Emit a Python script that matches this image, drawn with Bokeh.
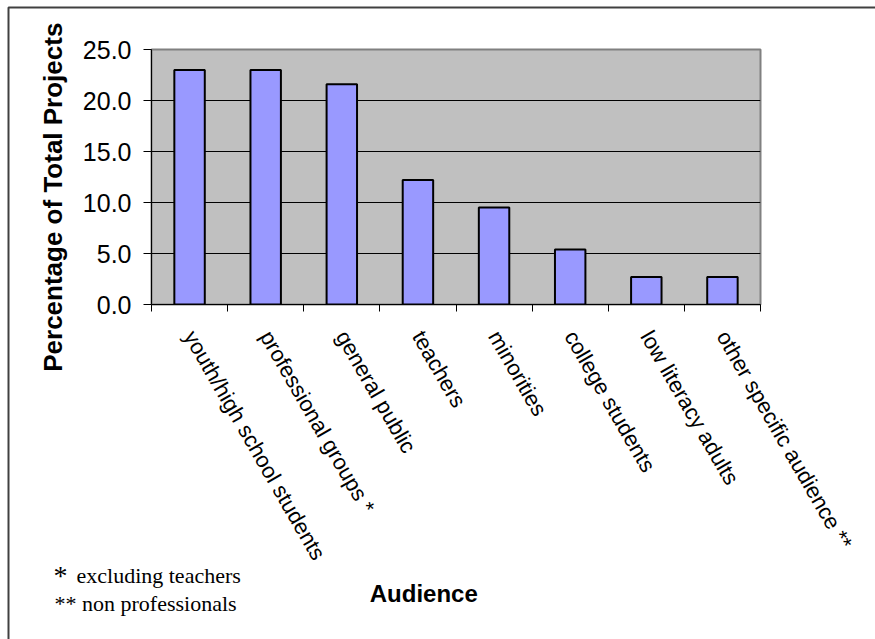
import math
from bokeh.plotting import figure
from bokeh.models import Range1d, FixedTicker
from bokeh.layouts import column
from bokeh.core.properties import value
from bokeh.embed import file_html
from bokeh.resources import INLINE

# ---- data ----
categories = ["youth/high school students", "professional groups *", "general public",
              "teachers", "minorities", "college students", "low literacy adults",
              "other specific audience **"]
values = [23.0, 23.0, 21.6, 12.2, 9.5, 5.4, 2.7, 2.7]
y_ticks = [0, 5, 10, 15, 20, 25]
y_tick_labels = ["0.0", "5.0", "10.0", "15.0", "20.0", "25.0"]
y_title = "Percentage of Total Projects"
x_title = "Audience"
note1_mark = "*"
note1_text = "excluding teachers"
note2_text = "** non professionals"

# ---- layout constants (pixels) ----
W, H = 875, 639
FL, FR, FT, FB = 151, 760, 49, 304   # plot-area edges

n = len(categories)
x_idx = list(range(n))

# ---------------- main chart ----------------
p = figure(width=W, height=H, output_backend="svg", toolbar_location=None,
           x_range=Range1d(-0.5, n - 0.5), y_range=Range1d(0, 25),
           min_border_left=FL, min_border_right=W - FR,
           min_border_top=FT, min_border_bottom=H - FB)

p.background_fill_color = "#C0C0C0"
p.border_fill_color = "white"
p.outline_line_color = "#808080"
p.outline_line_width = 2

p.vbar(x=x_idx, top=values, width=0.4, bottom=0,
       fill_color="#9999FF", line_color="black", line_width=2)

p.xgrid.visible = False
p.ygrid.grid_line_color = "black"
p.ygrid.grid_line_width = 1
p.ygrid.ticker = FixedTicker(ticks=y_ticks)

ya = p.yaxis[0]
ya.ticker = FixedTicker(ticks=y_ticks)
ya.major_label_overrides = {t: lab for t, lab in zip(y_ticks, y_tick_labels)}
ya.major_label_text_font = "Liberation Sans"
ya.major_label_text_font_size = "25px"
ya.major_label_text_color = "black"
ya.major_tick_out = 8
ya.major_tick_in = 0
ya.minor_tick_out = 0
ya.minor_tick_in = 0
ya.major_label_standoff = 12
ya.axis_line_color = "black"
ya.major_tick_line_color = "black"

xa = p.xaxis[0]
xa.ticker = FixedTicker(ticks=x_idx, minor_ticks=[i - 0.5 for i in range(n + 1)])
xa.major_label_overrides = {i: c for i, c in zip(x_idx, categories)}
xa.major_label_orientation = -math.radians(60)
xa.major_label_text_font = "Liberation Sans"
xa.major_label_text_font_size = "22px"
xa.major_label_text_color = "black"
xa.major_tick_out = 0
xa.major_tick_in = 0
xa.minor_tick_out = 7
xa.minor_tick_in = 0
xa.minor_tick_line_color = "black"
xa.major_label_standoff = 21
xa.axis_line_color = "black"

# ---------------- transparent overlay for free-standing texts ----------------
q = figure(width=W, height=H, output_backend="svg", toolbar_location=None,
           x_range=Range1d(0, W), y_range=Range1d(0, H),
           x_axis_type=None, y_axis_type=None, min_border=0,
           margin=(-H, 0, 0, 0))
q.background_fill_alpha = 0
q.border_fill_alpha = 0
q.outline_line_color = None
q.grid.visible = False

# do not align the overlay's frame with the chart's frame
p.frame_align = False
q.frame_align = False

def Y(sy):
    return H - sy

q.text(x=[52], y=[Y(196.7)], text=[y_title], angle=math.pi / 2,
       text_align="center", text_baseline="alphabetic",
       text_font=value("Liberation Sans"), text_font_style="bold",
       text_font_size="26px", text_color="black")
q.text(x=[423.3], y=[Y(592.5)], text=[x_title],
       text_align="center", text_baseline="alphabetic",
       text_font=value("Liberation Sans"), text_font_style="bold",
       text_font_size="24px", text_color="black")
q.text(x=[53], y=[Y(575)], text=[note1_mark],
       text_align="left", text_baseline="alphabetic",
       text_font=value("Liberation Serif"), text_font_size="28px", text_color="black")
q.text(x=[76], y=[Y(575)], text=[note1_text],
       text_align="left", text_baseline="alphabetic",
       text_font=value("Liberation Serif"), text_font_size="22px", text_color="black")
q.text(x=[54], y=[Y(603)], text=[note2_text],
       text_align="left", text_baseline="alphabetic",
       text_font=value("Liberation Serif"), text_font_size="22px", text_color="black")

# outer chart border (only left and top edges lie inside the picture)
q.line(x=[8, 8, W + 5], y=[Y(H + 5), Y(7), Y(7)], line_color="#404040", line_width=2)

layout = column(p, q, spacing=0)
open("out.html", "w").write(file_html(layout, INLINE))
